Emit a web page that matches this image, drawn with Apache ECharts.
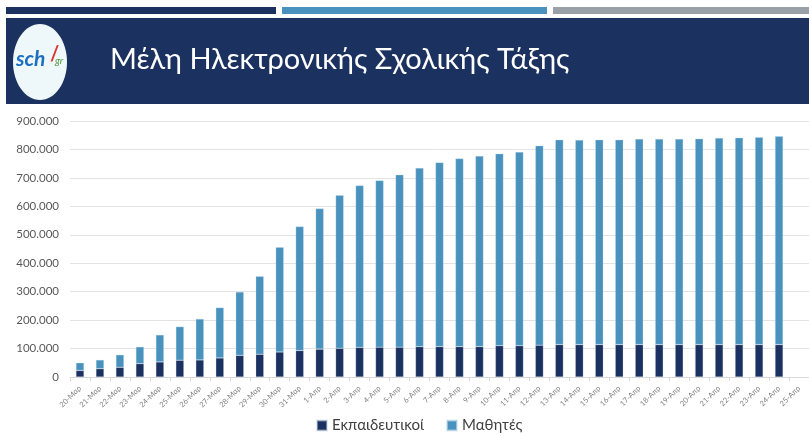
<!DOCTYPE html>
<html>
<head>
<meta charset="utf-8">
<script src="https://cdn.jsdelivr.net/npm/echarts@6/dist/echarts.min.js"></script>
<style>
  html, body { margin: 0; padding: 0; background: #fff; }
  #chart { width: 809px; height: 436px; }
</style>
</head>
<body>
<div id="chart"></div>
<script>
// ημερομηνίες (άξονας x)
var days = ["20-Μαρ", "21-Μαρ", "22-Μαρ", "23-Μαρ", "24-Μαρ", "25-Μαρ", "26-Μαρ", "27-Μαρ", "28-Μαρ", "29-Μαρ",
  "30-Μαρ", "31-Μαρ", "1-Απρ", "2-Απρ", "3-Απρ", "4-Απρ", "5-Απρ", "6-Απρ", "7-Απρ", "8-Απρ", "9-Απρ",
  "10-Απρ", "11-Απρ", "12-Απρ", "13-Απρ", "14-Απρ", "15-Απρ", "16-Απρ", "17-Απρ", "18-Απρ", "19-Απρ",
  "20-Απρ", "21-Απρ", "22-Απρ", "23-Απρ", "24-Απρ", "25-Απρ"];

// Εκπαιδευτικοί
var teachers = [23000, 29000, 34000, 47000, 53000, 59000, 60000, 67000, 76000, 80000,
  88000, 93000, 98000, 101000, 104000, 105000, 105000, 107000, 107000, 107000, 107000,
  110000, 110000, 112000, 114000, 114000, 114000, 114000, 114000, 114000, 114000,
  114000, 114000, 114000, 114000, 114000, null];

// Μαθητές
var students = [27000, 31000, 44000, 59000, 95000, 118000, 144000, 177000, 223000, 274000,
  368000, 436000, 494000, 538000, 569000, 586000, 606000, 628000, 647000, 661000, 670000,
  675000, 681000, 701000, 720000, 719000, 720000, 720000, 723000, 723000, 723000,
  724000, 726000, 727000, 729000, 732000, null];

var yTicks = [0, 100000, 200000, 300000, 400000, 500000, 600000, 700000, 800000, 900000];

var chart = echarts.init(document.getElementById("chart"));
var font = "Lato, 'Open Sans', sans-serif";

chart.setOption({
  animation: false,
  textStyle: { fontFamily: font },
  graphic: [
    // γραμμές πάνω
    { type: "rect", shape: { x: 6, y: 7, width: 270, height: 7 }, style: { fill: "#1b3260" } },
    { type: "rect", shape: { x: 282, y: 7, width: 265, height: 7 }, style: { fill: "#4892bd" } },
    { type: "rect", shape: { x: 553, y: 7, width: 256, height: 7 }, style: { fill: "#9aa0a7" } },
    // μπλε λωρίδα τίτλου
    { type: "rect", shape: { x: 6, y: 18, width: 803, height: 86 }, style: { fill: "#1b3260" } },
    { type: "ellipse", shape: { cx: 40, cy: 62, rx: 27, ry: 38 }, style: { fill: "#eef8fb" } },
    { type: "text", left: 16, top: 49, style: { text: "sch", fill: "#1f6fc0", font: "italic bold 21px Lato, sans-serif" } },
    { type: "text", left: 50, top: 45, style: { text: "/", fill: "#d8372d", font: "bold 20px Lato, sans-serif" } },
    { type: "text", left: 55, top: 56, style: { text: "gr", fill: "#4e9a3a", font: "italic 10px Lato, sans-serif" } },
    { type: "text", left: 110, top: 45, style: { text: "Μέλη Ηλεκτρονικής Σχολικής Τάξης", fill: "#ffffff", font: "29px " + font } }
  ],
  legend: {
    top: 418,
    left: 316,
    padding: 0,
    itemWidth: 10,
    itemHeight: 10,
    itemGap: 22,
    icon: "rect",
    textStyle: { color: "#404040", fontSize: 15, fontFamily: font },
    data: ["Εκπαιδευτικοί", "Μαθητές"]
  },
  grid: { left: 70, right: -1, top: 121, bottom: 59, containLabel: false },
  xAxis: {
    type: "category",
    data: days,
    axisLine: { lineStyle: { color: "#d9d9d9", width: 1 } },
    axisTick: { show: true, alignWithLabel: false, length: 4, lineStyle: { color: "#d9d9d9" } },
    axisLabel: { interval: 0, rotate: 45, fontSize: 7.5, color: "#7f7f7f", margin: 10 }
  },
  yAxis: {
    type: "value",
    min: yTicks[0],
    max: yTicks[yTicks.length - 1],
    interval: 100000,
    axisLine: { show: false },
    axisTick: { show: false },
    splitLine: { lineStyle: { color: "#e3e3e3", width: 1 } },
    axisLabel: {
      color: "#595959",
      fontSize: 11.5,
      margin: 11,
      formatter: function (v) { return String(v).replace(/\B(?=(\d{3})+(?!\d))/g, "."); }
    }
  },
  series: [
    {
      name: "Εκπαιδευτικοί",
      type: "bar",
      stack: "total",
      barWidth: 8,
      data: teachers,
      itemStyle: { color: "#1b3260", borderColor: "rgba(200,215,230,0.5)", borderWidth: 0.5 }
    },
    {
      name: "Μαθητές",
      type: "bar",
      stack: "total",
      barWidth: 8,
      data: students,
      itemStyle: { color: "#4892bd", borderColor: "rgba(200,225,240,0.6)", borderWidth: 0.5 }
    }
  ]
});
</script>
</body>
</html>
